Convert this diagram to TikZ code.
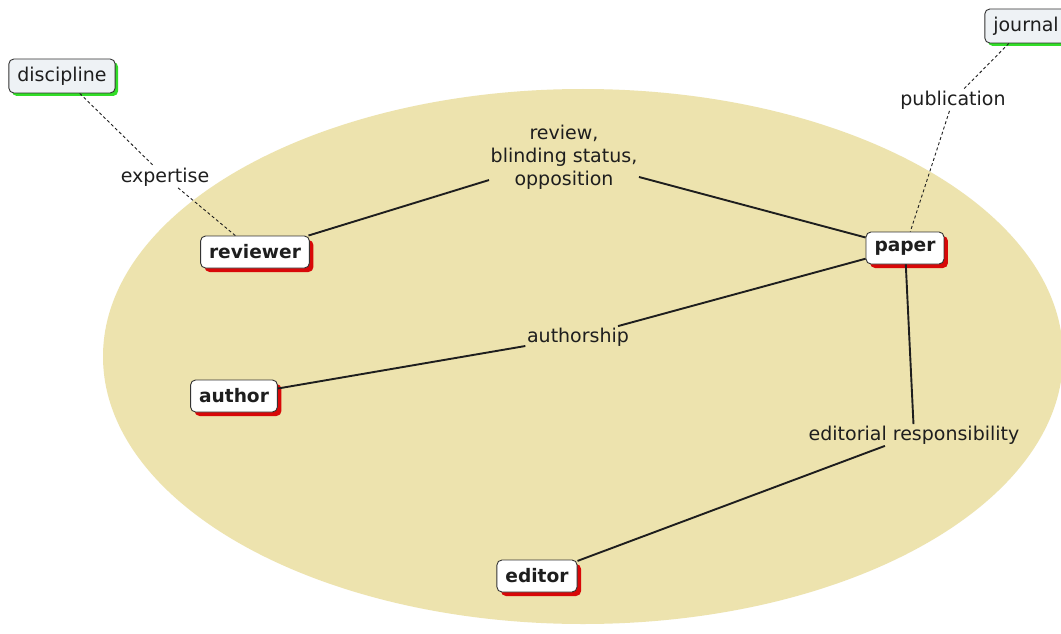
\documentclass[tikz,border=0pt]{standalone}
\usepackage{fontspec}
\setmainfont{DejaVu Sans}
\usetikzlibrary{shadows}
\definecolor{sand}{RGB}{237,227,174}
\definecolor{shadowred}{RGB}{216,8,8}
\definecolor{shadowgreen}{RGB}{50,222,40}
\definecolor{outerfill}{RGB}{238,242,245}
\definecolor{ink}{RGB}{30,30,30}
\begin{document}
\begin{tikzpicture}[x=1pt,y=-1pt,
  box/.style={draw=black!80, line width=0.9pt, rounded corners=5pt, text=ink,
    minimum height=32pt, inner xsep=8.5pt, inner ysep=0pt},
  core/.style={box, fill=white, font=\fontsize{18.6}{21}\selectfont\bfseries,
    drop shadow={shadow xshift=4pt, shadow yshift=-4pt, fill=shadowred, opacity=1}},
  outer/.style={box, fill=outerfill, minimum height=34pt, font=\fontsize{19}{21}\selectfont,
    drop shadow={shadow xshift=3pt, shadow yshift=-3pt, fill=shadowgreen, opacity=1}},
  lbl/.style={font=\fontsize{19}{23}\selectfont, align=center, inner sep=1.5pt, text=ink},
  link/.style={line width=1.9pt, ink},
  loose/.style={line width=0.9pt, ink, dash pattern=on 3pt off 2.5pt}]
  \useasboundingbox (0,0) rectangle (1061,634);
  \clip (0,0) rectangle (1061,634);
  \fill[white] (0,0) rectangle (1061,634);

  % the research domain
  \fill[sand] (583,356.5) ellipse [x radius=480pt, y radius=267.5pt];

  % labels on the relations
  \node[lbl] (rev)  at (564,157) {review,\\blinding status,\\opposition};
  \node[lbl] (exp)  at (165,177) {expertise};
  \node[lbl] (pub)  at (953,100) {publication};
  \node[lbl] (auth) at (578,337) {authorship};
  \node[lbl] (edr)  at (914,435) {editorial responsibility};

  % concepts
  \node[outer] (discipline) at (62,76)   {discipline};
  \node[outer] (journal)    at (1026,26) {journal};
  \node[core]  (reviewer)   at (255,252) {reviewer};
  \node[core]  (paper)      at (905,248) {paper};
  \node[core]  (author)     at (234,396) {author};
  \node[core]  (editor)     at (537,576) {editor};

  % relations
  \draw[link] (reviewer) -- (rev);
  \draw[link] (rev) -- (paper);
  \draw[link] (author) -- (auth);
  \draw[link] (auth) -- (paper);
  \draw[link] (paper) -- (edr);
  \draw[link] (edr) -- (editor);
  \draw[loose] (discipline) -- (exp);
  \draw[loose] (exp) -- (reviewer);
  \draw[loose] (journal) -- (pub);
  \draw[loose] (pub) -- (paper);
\end{tikzpicture}
\end{document}
